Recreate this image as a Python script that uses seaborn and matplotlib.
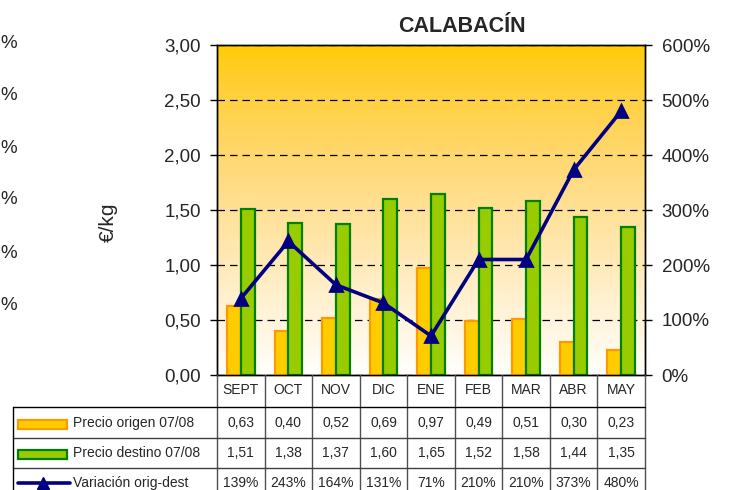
import numpy as np
import pandas as pd
import matplotlib
matplotlib.use("Agg")
import matplotlib.pyplot as plt
import seaborn as sns
from matplotlib import transforms
from matplotlib.patches import Rectangle
from matplotlib.lines import Line2D

# ---------------- data ----------------
months = ["SEPT", "OCT", "NOV", "DIC", "ENE", "FEB", "MAR", "ABR", "MAY"]
precio_origen = [0.63, 0.40, 0.52, 0.69, 0.97, 0.49, 0.51, 0.30, 0.23]
precio_destino = [1.51, 1.38, 1.37, 1.60, 1.65, 1.52, 1.58, 1.44, 1.35]
variacion = [139, 243, 164, 131, 71, 210, 210, 373, 480]
series_names = ["Precio origen 07/08", "Precio destino 07/08", "Variación orig-dest"]
left_ticks = [0, 0.5, 1.0, 1.5, 2.0, 2.5, 3.0]
right_ticks = [0, 100, 200, 300, 400, 500, 600]
title = "CALABACÍN"
ylabel = "€/kg"

# ---------------- style ----------------
sns.set_style("white")
plt.rcParams["font.family"] = ["Liberation Sans", "DejaVu Sans"]

ORANGE, ORANGE_E = "#FFCC00", "#FF9900"
GREEN, GREEN_E = "#99CC00", "#008000"
NAVY = "#000080"

W, H = 733, 490
fig = plt.figure(figsize=(W / 100, H / 100), dpi=100)
fig.patch.set_facecolor("white")


def fx(px):
    return px / W


def fy(py):
    return 1 - py / H


X0, X1, Y0, Y1 = 217, 645, 45, 375
ax = fig.add_axes([fx(X0), fy(Y1), fx(X1) - fx(X0), fy(Y0) - fy(Y1)])

# gradient background (gold at top fading to white)
t = np.linspace(0, 1, 256)
img = np.zeros((256, 1, 3))
img[:, 0, 0] = 1.0
img[:, 0, 1] = (204 + 51 * t ** 1.3) / 255
img[:, 0, 2] = (252 * t ** 0.75) / 255
ax.imshow(img, aspect="auto", extent=(-0.5, 8.5, 0, 3), origin="upper", zorder=0)

df = pd.DataFrame({
    "mes": months * 2,
    "valor": precio_origen + precio_destino,
    "serie": [series_names[0]] * len(months) + [series_names[1]] * len(months),
})
sns.barplot(data=df, x="mes", y="valor", hue="serie", palette=[ORANGE, GREEN],
            width=0.58, gap=0, saturation=1, ax=ax, legend=False,
            linewidth=1.6, zorder=3)
for cont, ec in zip(ax.containers, [ORANGE_E, GREEN_E]):
    for p in cont:
        p.set_edgecolor(ec)

ax.set_xlim(-0.5, 8.5)
ax.set_ylim(0, 3)
ax.set_yticks(left_ticks)
ax.set_yticklabels([f"{v:.2f}".replace(".", ",") for v in left_ticks])
ax.yaxis.grid(True, linestyle=(0, (6, 4)), color="black", linewidth=0.9)
ax.set_axisbelow(True)
ax.set_xlabel("")
ax.set_ylabel("")
ax.tick_params(axis="y", direction="out", length=5, width=1, color="black",
               labelsize=13.5, pad=6.5, left=True)
ax.tick_params(axis="x", length=0, labelsize=10, pad=6)
for s in ax.spines.values():
    s.set_color("black")
    s.set_linewidth(1)

# line on secondary axis
ax2 = ax.twinx()
sns.pointplot(x=months, y=variacion, ax=ax2, color=NAVY, markers="^",
              markersize=9, linewidth=2.6, errorbar=None)
ax2.set_xlim(-0.5, 8.5)
ax2.set_ylim(0, 600)
ax2.set_yticks(right_ticks)
ax2.set_yticklabels([f"{v}%" for v in right_ticks])
ax2.set_ylabel("")
ax2.set_xlabel("")
ax2.tick_params(axis="y", direction="out", length=5, width=1, color="black",
                labelsize=13.5, pad=7, right=True)
for s in ax2.spines.values():
    s.set_color("black")
    s.set_linewidth(1)
ax.set_xlim(-0.5, 8.5)

# ---------------- data table ----------------
bt = transforms.blended_transform_factory(ax.transData, fig.transFigure)
bounds = np.arange(-0.5, len(months) + 0.5, 1)
for b in bounds:
    fig.add_artist(Line2D([b, b], [fy(375), fy(492)], transform=bt,
                          color="#505050", lw=1, clip_on=False))
for yy, col in [(407, "black"), (438, "#404040"), (468, "#404040")]:
    fig.add_artist(Line2D([fx(13), fx(X1)], [fy(yy), fy(yy)],
                          transform=fig.transFigure, color=col, lw=1))
fig.add_artist(Line2D([fx(13), fx(13)], [fy(407), fy(492)],
                      transform=fig.transFigure, color="black", lw=1))

row_y = [422.5, 453, 483]
rows = [
    [f"{v:.2f}".replace(".", ",") for v in precio_origen],
    [f"{v:.2f}".replace(".", ",") for v in precio_destino],
    [f"{v}%" for v in variacion],
]
for ry, vals in zip(row_y, rows):
    for i, tx in enumerate(vals):
        ax.text(i, fy(ry), tx, transform=bt, ha="center", va="center",
                fontsize=10, clip_on=False)

# legend keys
fig.add_artist(Rectangle((fx(18), fy(429)), fx(67) - fx(18), fy(420) - fy(429),
                         transform=fig.transFigure, facecolor=ORANGE,
                         edgecolor=ORANGE_E, lw=1.6))
fig.add_artist(Rectangle((fx(18), fy(459)), fx(67) - fx(18), fy(450) - fy(459),
                         transform=fig.transFigure, facecolor=GREEN,
                         edgecolor=GREEN_E, lw=1.6))
fig.add_artist(Line2D([fx(18), fx(70)], [fy(483), fy(483)],
                      transform=fig.transFigure, color=NAVY, lw=2.6))
fig.add_artist(Line2D([fx(43)], [fy(483)], transform=fig.transFigure,
                      color=NAVY, marker="^", markersize=8))
for ry, name in zip(row_y, series_names):
    fig.text(fx(73), fy(ry), name, ha="left", va="center", fontsize=10)

# ---------------- titles / labels ----------------
fig.text(fx(461.5), fy(26), title, ha="center", va="center", fontsize=15.5,
         fontweight="bold")
fig.text(fx(108), fy(222), ylabel, ha="center", va="center", fontsize=15,
         rotation=90)

# fragments of the neighbouring chart's axis
for yy in [43, 95, 148, 200, 253, 305]:
    fig.text(fx(0), fy(yy), "%", ha="left", va="center", fontsize=13.5)

fig.savefig("out.png", dpi=100)
